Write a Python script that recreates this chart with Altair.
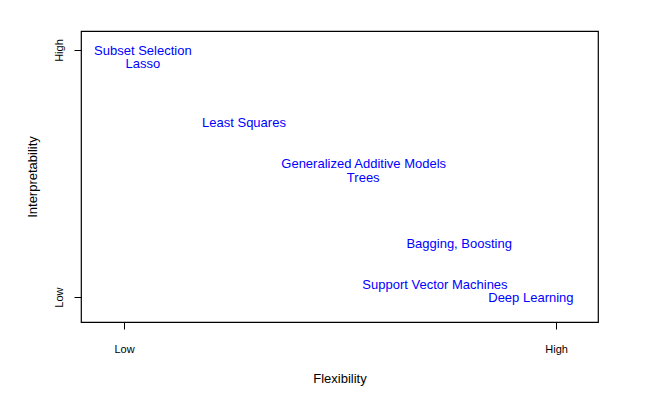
import altair as alt
import pandas as pd

methods = ["Subset Selection", "Lasso", "Least Squares", "Generalized Additive Models",
           "Trees", "Bagging, Boosting", "Support Vector Machines", "Deep Learning"]
flex = [0.046, 0.046, 0.28, 0.557, 0.556, 0.778, 0.722, 0.944]
interp = [1.0, 0.947, 0.709, 0.543, 0.486, 0.219, 0.053, 0.0]

df = pd.DataFrame({"method": methods, "flex": flex, "interp": interp})

FONT = "Liberation Sans"

chart = alt.Chart(df).mark_text(
    color="#0000FF", font=FONT, fontSize=13, baseline="middle", align="center", dx=-1, dy=1
).encode(
    x=alt.X("flex:Q", scale=alt.Scale(domain=[-0.0995, 1.097], nice=False, zero=False),
            axis=alt.Axis(values=[0, 1], labelExpr="datum.value == 0 ? 'Low' : 'High'",
                          title="Flexibility", grid=False, domain=False, tickSize=7,
                          tickColor="black", labelPadding=14, titlePadding=18,
                          labelFont=FONT, titleFont=FONT, labelFontSize=11, titleFontSize=13,
                          titleFontWeight="normal", labelColor="black", titleColor="black")),
    y=alt.Y("interp:Q", scale=alt.Scale(domain=[-0.101, 1.077], nice=False, zero=False),
            axis=alt.Axis(values=[0, 1], labelExpr="datum.value == 0 ? 'Low' : 'High'",
                          title="Interpretability", grid=False, domain=False, tickSize=7,
                          tickColor="black", labelAngle=270, labelAlign="center",
                          labelBaseline="bottom", labelPadding=10, titlePadding=14,
                          labelFont=FONT, titleFont=FONT, labelFontSize=11, titleFontSize=13,
                          titleFontWeight="normal", labelColor="black", titleColor="black")),
    text="method:N",
).properties(
    width=517, height=291,
    autosize=alt.AutoSizeParams(type="none"),
    padding={"left": 81, "top": 31, "right": 55, "bottom": 85},
).configure(
    background="white",
    view=alt.ViewConfig(stroke="black", strokeWidth=1.2),
)

chart.save("out.html", embed_options={"renderer": "svg", "actions": False})
